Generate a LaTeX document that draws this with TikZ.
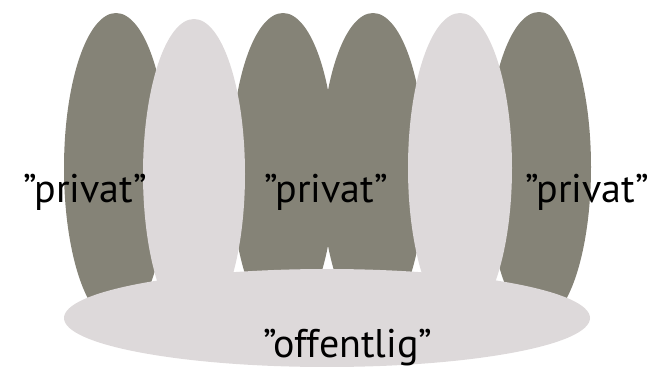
\documentclass[tikz,border=0pt]{standalone}
\usepackage{fontspec}
\setmainfont{PT Sans}
\usetikzlibrary{shapes.geometric,positioning}
\definecolor{privatgray}{RGB}{133,131,119}
\definecolor{offgray}{RGB}{221,217,218}

\begin{document}
\begin{tikzpicture}[x=1pt,y=-1pt]
      \useasboundingbox (0,0) rectangle (657,367);
      % dark "privat" ellipses
      \node[ellipse,fill=privatgray,minimum width=104pt,minimum height=310pt,inner sep=0pt] (priv1) at (116,168) {};
      \node[ellipse,fill=privatgray,minimum width=104pt,minimum height=310pt,inner sep=0pt] (priv2) at (283,168) {};
      \node[ellipse,fill=privatgray,minimum width=104pt,minimum height=310pt,inner sep=0pt] (priv3) at (373,168) {};
      \node[ellipse,fill=privatgray,minimum width=104pt,minimum height=310pt,inner sep=0pt] (priv4) at (539,167) {};
      % light ellipses
      \node[ellipse,fill=offgray,minimum width=102pt,minimum height=310pt,inner sep=0pt] (mid1) at (194,174) {};
      \node[ellipse,fill=offgray,minimum width=104pt,minimum height=310pt,inner sep=0pt] (mid2) at (460,168) {};
      \node[ellipse,fill=offgray,minimum width=526pt,minimum height=98pt,inner sep=0pt] (off) at (327,318) {};

      \node[anchor=base,inner sep=0pt,font=\fontsize{40}{46}\selectfont] (privtext1) at (85,202) {”privat”};
      \node[anchor=base,inner sep=0pt,font=\fontsize{40}{46}\selectfont] (privtext2) at (326,202) {”privat”};
      \node[anchor=base,inner sep=0pt,font=\fontsize{40}{46}\selectfont] (privtext3) at (587,202) {”privat”};
      \node[anchor=base,inner sep=0pt,font=\fontsize{40}{46}\selectfont] (offtext) at (348,357) {”offentlig”};
    \end{tikzpicture}
\end{document}
